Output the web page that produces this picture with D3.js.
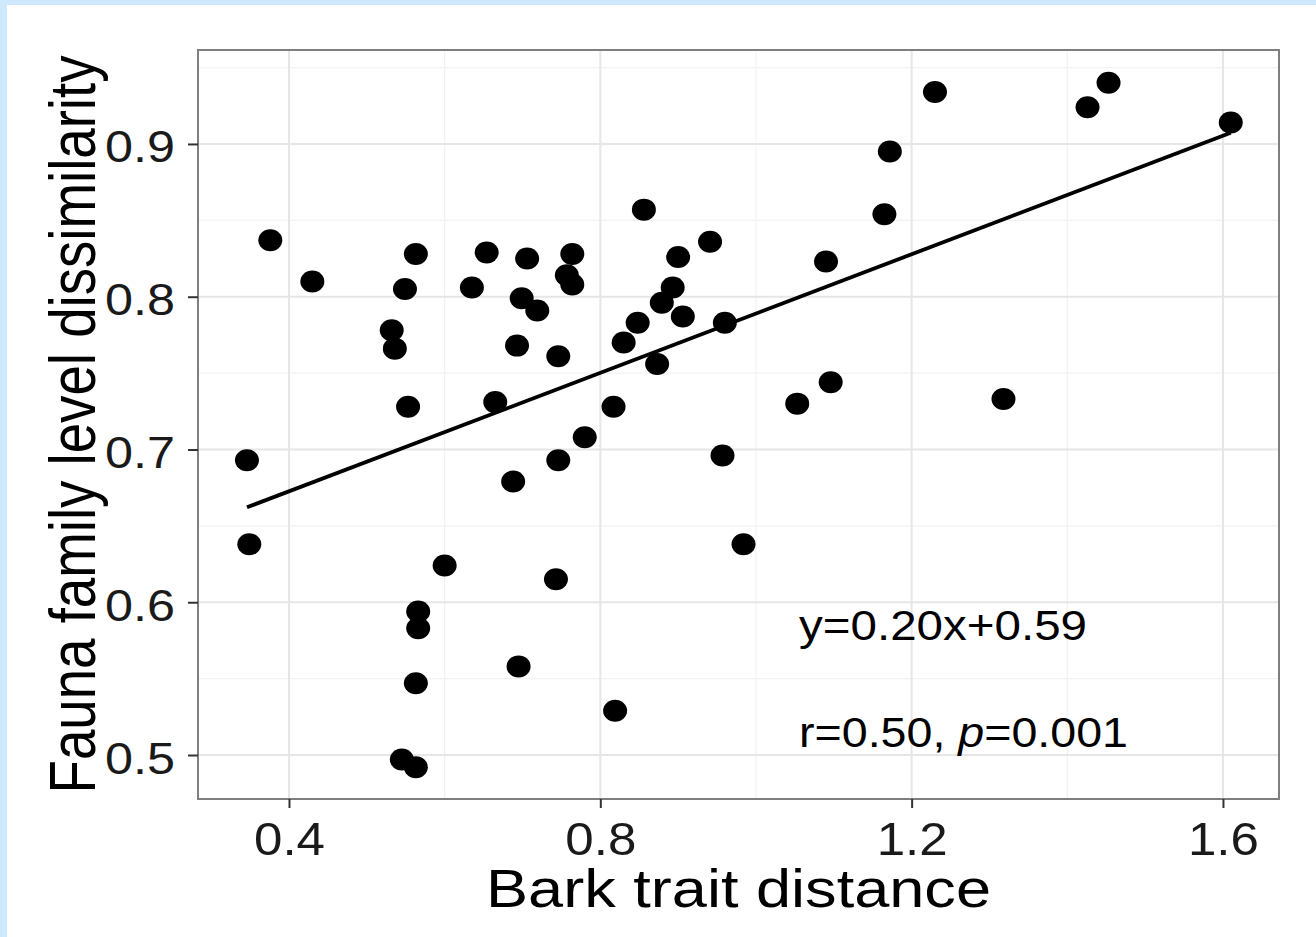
<!DOCTYPE html>
<html>
<head>
<meta charset="utf-8">
<script src="https://cdn.jsdelivr.net/npm/d3@7"></script>
<style>
  body { margin: 0; background: #fff; }
  svg { display: block; font-family: Arial, "Liberation Sans", sans-serif; }
</style>
</head>
<body>
<svg id="chart" width="1316" height="937"></svg>
<script>
// data
var barkDist = [0.346, 0.349, 0.376, 0.430, 0.532, 0.536, 0.549, 0.553, 0.563, 0.545,
  0.563, 0.566, 0.566, 0.563, 0.600, 0.635, 0.654, 0.665, 0.688, 0.693,
  0.695, 0.699, 0.706, 0.719, 0.746, 0.743, 0.746, 0.757, 0.764, 0.764,
  0.780, 0.817, 0.819, 0.830, 0.848, 0.856, 0.873, 0.879, 0.893, 0.900,
  0.906, 0.941, 0.957, 0.960, 0.984, 1.053, 1.090, 1.096, 1.165, 1.172,
  1.230, 1.318, 1.426, 1.453, 1.610];
var faunaDiss = [0.693, 0.638, 0.837, 0.810, 0.778, 0.766, 0.805, 0.728, 0.828, 0.497,
  0.492, 0.594, 0.583, 0.547, 0.624, 0.806, 0.829, 0.731, 0.679, 0.768,
  0.558, 0.799, 0.825, 0.791, 0.761, 0.615, 0.693, 0.814, 0.808, 0.828,
  0.708, 0.728, 0.529, 0.770, 0.783, 0.857, 0.756, 0.796, 0.806, 0.826,
  0.787, 0.836, 0.696, 0.783, 0.638, 0.730, 0.823, 0.744, 0.854, 0.895,
  0.934, 0.733, 0.924, 0.940, 0.914];

var xTicks = [0.4, 0.8, 1.2, 1.6];
var xMinor = [0.6, 1.0, 1.4];
var yTicks = [0.5, 0.6, 0.7, 0.8, 0.9];
var yMinor = [0.55, 0.65, 0.75, 0.85, 0.95];

var fitSlope = 0.194;
var fitIntercept = 0.595;
var eqText = 'y=0.20x+0.59';

var svg = d3.select('#chart');

// light blue frame (top and left only)
svg.append('rect').attr('x', 0).attr('y', 0).attr('width', 1316).attr('height', 5).attr('fill', '#cde9fb');
svg.append('rect').attr('x', 0).attr('y', 0).attr('width', 7).attr('height', 937).attr('fill', '#cde9fb');

var panelL = 198, panelR = 1279, panelT = 50, panelB = 799;

var x = d3.scaleLinear().domain([0.2831, 1.672]).range([panelL, panelR]);
var y = d3.scaleLinear().domain([0.4712, 0.9615]).range([panelB, panelT]);

var grid = svg.append('g');
// minor grid
grid.selectAll('.xmin').data(xMinor).enter().append('line')
  .attr('x1', d => x(d)).attr('x2', d => x(d))
  .attr('y1', panelT).attr('y2', panelB)
  .attr('stroke', '#f2f2f2').attr('stroke-width', 1.2);
grid.selectAll('.ymin').data(yMinor).enter().append('line')
  .attr('x1', panelL).attr('x2', panelR)
  .attr('y1', d => y(d)).attr('y2', d => y(d))
  .attr('stroke', '#f2f2f2').attr('stroke-width', 1.2);
// major grid
grid.selectAll('.xmaj').data(xTicks).enter().append('line')
  .attr('x1', d => x(d)).attr('x2', d => x(d))
  .attr('y1', panelT).attr('y2', panelB)
  .attr('stroke', '#e6e6e6').attr('stroke-width', 2);
grid.selectAll('.ymaj').data(yTicks).enter().append('line')
  .attr('x1', panelL).attr('x2', panelR)
  .attr('y1', d => y(d)).attr('y2', d => y(d))
  .attr('stroke', '#e6e6e6').attr('stroke-width', 2);

// points
var pts = barkDist.map((v, i) => [v, faunaDiss[i]]);
svg.append('g').selectAll('ellipse').data(pts).enter().append('ellipse')
  .attr('cx', d => x(d[0])).attr('cy', d => y(d[1]))
  .attr('rx', 12).attr('ry', 11)
  .attr('fill', '#000');

// fitted line
var xr = d3.extent(barkDist);
var fitPts = xr.map(v => [v, fitIntercept + fitSlope * v]);
svg.append('path')
  .datum(fitPts)
  .attr('d', d3.line().x(d => x(d[0])).y(d => y(d[1])))
  .attr('fill', 'none').attr('stroke', '#000').attr('stroke-width', 3.8);

// panel border
svg.append('rect')
  .attr('x', panelL).attr('y', panelT)
  .attr('width', panelR - panelL).attr('height', panelB - panelT)
  .attr('fill', 'none').attr('stroke', '#7f7f7f').attr('stroke-width', 2);

// axes
var xAxis = svg.append('g').attr('transform', 'translate(0,' + panelB + ')')
  .call(d3.axisBottom(x).tickValues(xTicks).tickSize(9).tickSizeOuter(0).tickPadding(22)
    .tickFormat(d3.format('.1f')));
var yAxis = svg.append('g').attr('transform', 'translate(' + panelL + ',0)')
  .call(d3.axisLeft(y).tickValues(yTicks).tickSize(10).tickSizeOuter(0).tickPadding(12)
    .tickFormat(d3.format('.1f')));

[xAxis, yAxis].forEach(function (a) {
  a.select('.domain').remove();
  a.selectAll('.tick line').attr('stroke', '#333').attr('stroke-width', 2);
  a.selectAll('.tick text').attr('fill', '#1a1a1a').attr('font-family', 'Arial, "Liberation Sans", sans-serif');
});
xAxis.selectAll('.tick text')
  .attr('font-size', 46).attr('dy', null).attr('y', 56)
  .attr('textLength', 71).attr('lengthAdjust', 'spacingAndGlyphs');
yAxis.selectAll('.tick text')
  .attr('font-size', 45).attr('dy', null).attr('x', -23).attr('y', 18)
  .attr('textLength', 70).attr('lengthAdjust', 'spacingAndGlyphs');

// axis titles
svg.append('text')
  .attr('x', (panelL + panelR) / 2).attr('y', 907)
  .attr('text-anchor', 'middle')
  .attr('font-size', 53).attr('fill', '#000')
  .attr('textLength', 505).attr('lengthAdjust', 'spacingAndGlyphs')
  .text('Bark trait distance');

svg.append('text')
  .attr('transform', 'translate(95,' + ((panelT + panelB) / 2) + ') rotate(-90) scale(1,1.17)')
  .attr('text-anchor', 'middle')
  .attr('font-size', 55).attr('fill', '#000')
  .attr('textLength', 738).attr('lengthAdjust', 'spacingAndGlyphs')
  .text('Fauna family level dissimilarity');

// annotations
svg.append('text')
  .attr('x', 799).attr('y', 640)
  .attr('font-size', 42).attr('fill', '#000')
  .attr('textLength', 288).attr('lengthAdjust', 'spacingAndGlyphs')
  .text(eqText);

var stat = svg.append('text')
  .attr('x', 799).attr('y', 747)
  .attr('font-size', 42).attr('fill', '#000')
  .attr('textLength', 329).attr('lengthAdjust', 'spacingAndGlyphs');
stat.append('tspan').text('r=0.50, ');
stat.append('tspan').attr('font-style', 'italic').text('p');
stat.append('tspan').text('=0.001');
</script>
</body>
</html>
